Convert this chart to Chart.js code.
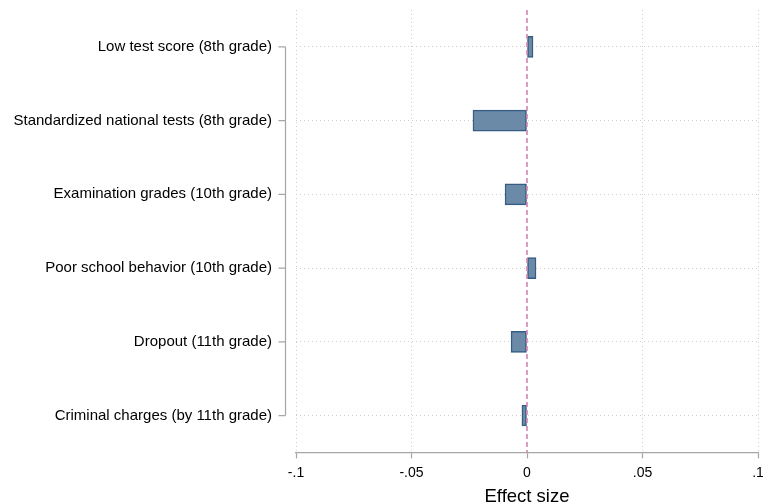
<!DOCTYPE html>
<html>
<head>
<meta charset="utf-8">
<script src="https://cdn.jsdelivr.net/npm/chart.js@4/dist/chart.umd.min.js"></script>
<style>
  html, body { margin: 0; padding: 0; background: #fff; }
  #wrap { width: 763px; height: 504px; }
</style>
</head>
<body>
<div id="wrap"><canvas id="effectChart"></canvas></div>
<script>
const categories = [
  'Low test score (8th grade)',
  'Standardized national tests (8th grade)',
  'Examination grades (10th grade)',
  'Poor school behavior (10th grade)',
  'Dropout (11th grade)',
  'Criminal charges (by 11th grade)'
];
const effects = [0.0026, -0.0234, -0.0095, 0.0039, -0.0069, -0.0022];
const xTicks = [-0.1, -0.05, 0, 0.05, 0.1];
const xTickLabels = ['-.1', '-.05', '0', '.05', '.1'];

const FONT = '"Liberation Sans", Arial, Helvetica, sans-serif';

// stata-style y axis: line between first and last category, gap to plot
const yAxisLine = {
  id: 'yAxisLine',
  afterDraw(chart) {
    const ctx = chart.ctx;
    const y = chart.scales.y;
    const xPos = Math.round(chart.chartArea.left - 11) + 0.5;
    const top = y.getPixelForTick(0);
    const bot = y.getPixelForTick(categories.length - 1);
    ctx.save();
    ctx.strokeStyle = '#a6a6a6';
    ctx.lineWidth = 1.2;
    ctx.beginPath();
    ctx.moveTo(xPos, top);
    ctx.lineTo(xPos, bot);
    for (let i = 0; i < categories.length; i++) {
      const py = y.getPixelForTick(i);
      ctx.moveTo(xPos - 7, py);
      ctx.lineTo(xPos, py);
    }
    ctx.stroke();
    ctx.restore();
  }
};

// dashed reference line at zero
const zeroLine = {
  id: 'zeroLine',
  afterDatasetsDraw(chart) {
    const ctx = chart.ctx;
    const x0 = chart.scales.x.getPixelForValue(0);
    const { top, bottom } = chart.chartArea;
    ctx.save();
    ctx.strokeStyle = '#d184b0';
    ctx.lineWidth = 1.6;
    ctx.setLineDash([5, 3]);
    ctx.beginPath();
    ctx.moveTo(x0, top);
    ctx.lineTo(x0, bottom);
    ctx.stroke();
    ctx.restore();
  }
};

new Chart(document.getElementById('effectChart'), {
  type: 'bar',
  data: {
    labels: categories,
    datasets: [{
      data: effects,
      backgroundColor: '#6b8aa7',
      borderColor: '#345c85',
      borderWidth: 1.5,
      borderSkipped: false,
      barThickness: 21
    }]
  },
  options: {
    indexAxis: 'y',
    responsive: true,
    maintainAspectRatio: false,
    animation: false,
    layout: { padding: { top: 10, right: 0, bottom: 0, left: 0 } },
    plugins: { legend: { display: false }, tooltip: { enabled: false } },
    scales: {
      x: {
        min: -0.1,
        max: 0.1,
        afterBuildTicks: s => { s.ticks = xTicks.map(v => ({ value: v })); },
        afterFit: s => { s.paddingRight = 5; },
        ticks: {
          color: '#000',
          font: { family: FONT, size: 14 },
          padding: 6,
          maxRotation: 0,
          callback: (v, i) => xTickLabels[i]
        },
        grid: {
          color: ctx => (ctx.tick && ctx.tick.value === 0) ? 'rgba(0,0,0,0)' : '#cfcfcf',
          lineWidth: 1,
          drawTicks: true,
          tickLength: 6,
          tickColor: '#a6a6a6',
          tickWidth: 1.2,
          tickBorderDash: []
        },
        border: { display: true, color: '#a6a6a6', width: 1.2, dash: [1, 3] },
        title: {
          display: true,
          text: 'Effect size',
          color: '#000',
          font: { family: FONT, size: 18.5, lineHeight: 0.8 },
          padding: { top: 2, bottom: 0 }
        }
      },
      y: {
        afterFit: s => { s.width = 296; },
        ticks: {
          color: '#000',
          font: { family: FONT, size: 15 },
          padding: 0
        },
        grid: {
          offset: false,
          color: '#cfcfcf',
          lineWidth: 1,
          drawTicks: true,
          tickLength: 24,
          tickColor: 'rgba(0,0,0,0)'
        },
        border: { display: false, dash: [1, 3] }
      }
    }
  },
  plugins: [zeroLine, yAxisLine]
});
</script>
</body>
</html>
